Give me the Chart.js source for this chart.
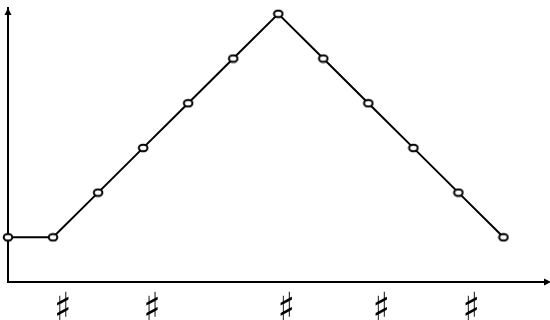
<!DOCTYPE html>
<html>
<head>
<meta charset="utf-8">
<script src="https://cdn.jsdelivr.net/npm/chart.js@4/dist/chart.umd.min.js"></script>
<style>
html,body{margin:0;padding:0;background:#fff;}
#wrap{width:550px;height:320px;}
</style>
</head>
<body>
<div id="wrap"><canvas id="c" width="550" height="320"></canvas></div>
<script>
// Data
const xValues = [0, 1, 2, 3, 4, 5, 6, 7, 8, 9, 10, 11];
const yValues = [1, 1, 2, 3, 4, 5, 6, 5, 4, 3, 2, 1];
const tickPositions = [1.22, 3.2, 6.18, 8.29, 10.29];
const tickLabels = ['♯', '♯', '♯', '♯', '♯'];

// Ellipse marker
function makeMarker() {
  const cv = document.createElement('canvas');
  cv.width = 12; cv.height = 10;
  const g = cv.getContext('2d');
  g.beginPath();
  g.ellipse(6, 5, 4.3, 3.3, 0, 0, Math.PI * 2);
  g.fillStyle = '#fff';
  g.fill();
  g.lineWidth = 2;
  g.strokeStyle = '#000';
  g.stroke();
  return cv;
}
const marker = makeMarker();

const arrowPlugin = {
  id: 'arrows',
  afterDraw(chart) {
    const ctx = chart.ctx;
    const a = chart.chartArea;
    ctx.save();
    ctx.fillStyle = '#000';
    // y-axis arrow head
    ctx.beginPath();
    ctx.moveTo(a.left, a.top);
    ctx.lineTo(a.left - 3.5, a.top + 7);
    ctx.lineTo(a.left + 3.5, a.top + 7);
    ctx.closePath();
    ctx.fill();
    // x-axis arrow head (clipped at right edge)
    ctx.beginPath();
    ctx.moveTo(a.right + 7, a.bottom);
    ctx.lineTo(a.right, a.bottom - 3.5);
    ctx.lineTo(a.right, a.bottom + 3.5);
    ctx.closePath();
    ctx.fill();
    ctx.restore();
  }
};

new Chart(document.getElementById('c'), {
  type: 'line',
  data: {
    datasets: [{
      data: xValues.map((x, i) => ({ x: x, y: yValues[i] })),
      borderColor: '#000',
      borderWidth: 2,
      tension: 0,
      pointStyle: marker,
      pointRadius: 4,
      clip: false
    }]
  },
  options: {
    responsive: false,
    animation: false,
    layout: { padding: { top: 8, right: 2, left: 0, bottom: 0 } },
    plugins: { legend: { display: false }, tooltip: { enabled: false } },
    scales: {
      x: {
        type: 'linear',
        min: 0,
        max: 11.9,
        grid: { display: false },
        border: { display: true, color: '#000', width: 2 },
        afterBuildTicks(scale) {
          scale.ticks = tickPositions.map(v => ({ value: v }));
        },
        afterFit(scale) { scale.height = 38; },
        ticks: {
          autoSkip: false,
          maxRotation: 0,
          color: '#000',
          padding: -3,
          font: { family: 'DejaVu Sans Condensed', size: 40 },
          callback(value, index) { return tickLabels[index]; }
        }
      },
      y: {
        min: 0,
        max: 6.13,
        grid: { display: false },
        border: { display: true, color: '#000', width: 2 },
        ticks: { display: false },
        afterFit(scale) { scale.width = 8; }
      }
    }
  },
  plugins: [arrowPlugin]
});
</script>
</body>
</html>
